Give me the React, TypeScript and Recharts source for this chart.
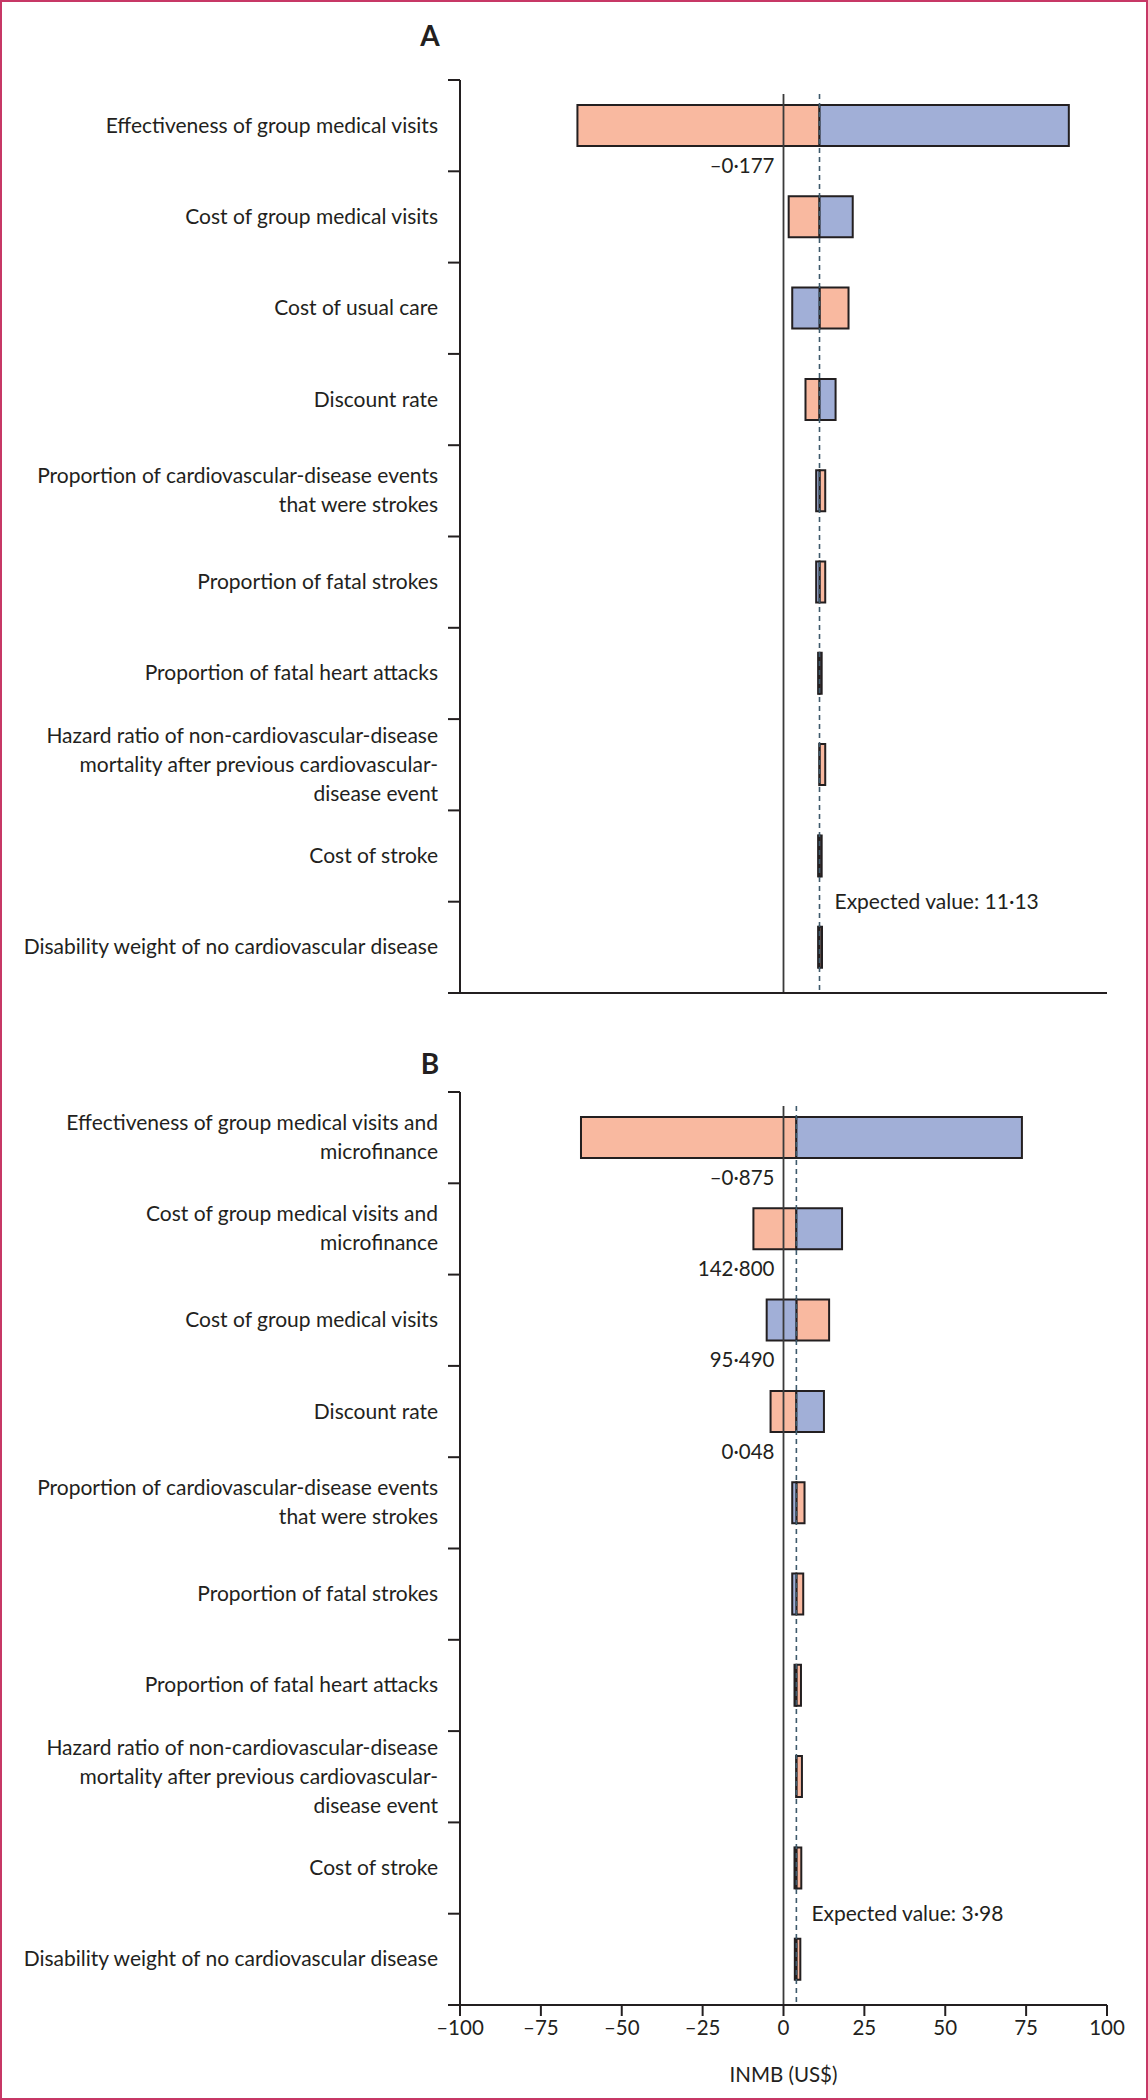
import { BarChart, Bar, XAxis, YAxis, ReferenceLine, ReferenceDot } from "recharts";

const CATEGORIES_A = [
  "Effectiveness of group medical visits",
  "Cost of group medical visits",
  "Cost of usual care",
  "Discount rate",
  "Proportion of cardiovascular-disease events\nthat were strokes",
  "Proportion of fatal strokes",
  "Proportion of fatal heart attacks",
  "Hazard ratio of non-cardiovascular-disease\nmortality after previous cardiovascular-\ndisease event",
  "Cost of stroke",
  "Disability weight of no cardiovascular disease",
];
const LOW_A = [-63.7, 1.6, 2.7, 6.8, 10.1, 10.1, 10.7, 11.1, 10.7, 10.7];
const HIGH_A = [88.2, 21.4, 20.1, 16.1, 12.9, 12.9, 11.8, 12.9, 11.8, 11.9];
const LEFT_SALMON_A = [true, true, false, true, false, false, false, false, false, false];
const EXPECTED_A = 11.13;
const NOTE_ROWS_A = [0];
const NOTE_TEXT_A = ["–0·177"];

const CATEGORIES_B = [
  "Effectiveness of group medical visits and\nmicrofinance",
  "Cost of group medical visits and\nmicrofinance",
  "Cost of group medical visits",
  "Discount rate",
  "Proportion of cardiovascular-disease events\nthat were strokes",
  "Proportion of fatal strokes",
  "Proportion of fatal heart attacks",
  "Hazard ratio of non-cardiovascular-disease\nmortality after previous cardiovascular-\ndisease event",
  "Cost of stroke",
  "Disability weight of no cardiovascular disease",
];
const LOW_B = [-62.6, -9.3, -5.2, -4.0, 2.7, 2.7, 3.4, 3.95, 3.4, 3.5];
const HIGH_B = [73.7, 18.1, 14.1, 12.5, 6.5, 6.1, 5.4, 5.7, 5.5, 5.2];
const LEFT_SALMON_B = [true, true, false, true, false, false, false, false, false, false];
const EXPECTED_B = 3.98;
const NOTE_ROWS_B = [0, 1, 2, 3];
const NOTE_TEXT_B = ["–0·875", "142·800", "95·490", "0·048"];

const X_TICKS = [-100, -75, -50, -25, 0, 25, 50, 75, 100];

const INK = "#231f20";
const SALMON = "#f9b9a0";
const BLUE = "#a1afd7";
const DASH = "#3e5a6c";
const FONT = "Lato, 'Open Sans', sans-serif";

const W = 1148;
const AXIS_X = 460;
const TOP = 80;
const PLOT_H = 913;
const ROWS = 10;
const BAND = PLOT_H / ROWS;
const BAR = 41;

function CategoryTick(props: any) {
  const { y, payload, index, visibleTicksCount } = props;
  const lines = String(payload.value).split("\n");
  const lh = 29;
  const first = y - ((lines.length - 1) * lh) / 2 + 7;
  return (
    <g>
      <line x1={AXIS_X - 12} x2={AXIS_X} y1={y - BAND / 2} y2={y - BAND / 2} stroke={INK} strokeWidth={2} />
      {index === visibleTicksCount - 1 && (
        <line x1={AXIS_X - 12} x2={AXIS_X} y1={y + BAND / 2} y2={y + BAND / 2} stroke={INK} strokeWidth={2} />
      )}
      <text x={AXIS_X - 22} y={first} textAnchor="end" fontSize={21} fill={INK} fontFamily={FONT}>
        {lines.map((l, i) => (
          <tspan key={i} x={AXIS_X - 22} dy={i === 0 ? 0 : lh}>
            {l}
          </tspan>
        ))}
      </text>
    </g>
  );
}

const trimmed = (color: string, width: number, dash?: string) => (p: any) => (
  <line
    x1={p.x1}
    x2={p.x2}
    y1={Math.min(p.y1, p.y2) + 14}
    y2={Math.max(p.y1, p.y2)}
    stroke={color}
    strokeWidth={width}
    strokeDasharray={dash}
  />
);

interface PanelProps {
  categories: string[];
  low: number[];
  high: number[];
  leftSalmon: boolean[];
  expected: number;
  noteRows: number[];
  noteText: string[];
  height: number;
  axisHeight: number;
  showTicks: boolean;
}

function Panel({ categories, low, high, leftSalmon, expected, noteRows, noteText, height, axisHeight, showTicks }: PanelProps) {
  const data = categories.map((name, i) => ({
    name,
    salmon: leftSalmon[i] ? [low[i], expected] : [expected, high[i]],
    blue: leftSalmon[i] ? [expected, high[i]] : [low[i], expected],
  }));
  const evText = `Expected value: ${String(expected).replace(".", "·")}`;

  return (
    <BarChart
      width={W}
      height={height}
      data={data}
      layout="vertical"
      margin={{ top: TOP, right: W - 1107, left: 0, bottom: 0 }}
      barSize={BAR}
      barGap={-BAR}
    >
      <XAxis
        type="number"
        domain={[-100, 100]}
        ticks={X_TICKS}
        height={axisHeight}
        tickSize={11}
        tickMargin={4}
        axisLine={{ stroke: INK, strokeWidth: 2 }}
        tickLine={{ stroke: INK, strokeWidth: 2 }}
        tick={showTicks ? { fill: INK, fontSize: 20.5, fontFamily: FONT } : false}
        tickFormatter={(v: number) => (v < 0 ? `–${-v}` : `${v}`)}
        label={
          showTicks
            ? { value: "INMB (US$)", position: "insideBottom", offset: 18, fill: INK, fontSize: 20.5, fontFamily: FONT }
            : undefined
        }
      />
      <YAxis
        type="category"
        dataKey="name"
        width={AXIS_X}
        interval={0}
        tickLine={false}
        axisLine={{ stroke: INK, strokeWidth: 2 }}
        tick={<CategoryTick />}
      />
      <Bar dataKey="salmon" fill={SALMON} stroke={INK} strokeWidth={2} isAnimationActive={false} />
      <Bar dataKey="blue" fill={BLUE} stroke={INK} strokeWidth={2} isAnimationActive={false} />
      <ReferenceLine x={0} stroke="#3a3a3a" shape={trimmed("#3a3a3a", 1.8)} />
      <ReferenceLine x={expected} stroke={DASH} shape={trimmed(DASH, 1.6, "5 4")} />
      {noteRows.map((r, i) => (
        <ReferenceDot
          key={r}
          x={0}
          y={categories[r]}
          r={0}
          shape={(p: any) => (
            <text x={p.cx - 9} y={p.cy + 47} textAnchor="end" fontSize={20.5} fill={INK} fontFamily={FONT}>
              {noteText[i]}
            </text>
          )}
        />
      ))}
      <ReferenceDot
        x={expected}
        y={categories[categories.length - 1]}
        r={0}
        shape={(p: any) => (
          <text x={p.cx + 15} y={p.cy - BAND / 2 + 7} fontSize={21} fill={INK} fontFamily={FONT}>
            {evText}
          </text>
        )}
      />
    </BarChart>
  );
}

const titleStyle: React.CSSProperties = {
  position: "absolute",
  left: 400,
  width: 60,
  height: 34,
  lineHeight: "34px",
  textAlign: "center",
  fontFamily: FONT,
  fontWeight: 700,
  fontSize: 28,
  color: INK,
};

export default function App() {
  return (
    <div style={{ position: "absolute", left: 0, top: 0, width: W, height: 2100, background: "#fff", fontFamily: FONT }}>
      <div style={{ position: "absolute", left: 0, top: 0 }}>
        <Panel
          categories={CATEGORIES_A}
          low={LOW_A}
          high={HIGH_A}
          leftSalmon={LEFT_SALMON_A}
          expected={EXPECTED_A}
          noteRows={NOTE_ROWS_A}
          noteText={NOTE_TEXT_A}
          height={1012}
          axisHeight={19}
          showTicks={false}
        />
      </div>
      <div style={{ position: "absolute", left: 0, top: 1012 }}>
        <Panel
          categories={CATEGORIES_B}
          low={LOW_B}
          high={HIGH_B}
          leftSalmon={LEFT_SALMON_B}
          expected={EXPECTED_B}
          noteRows={NOTE_ROWS_B}
          noteText={NOTE_TEXT_B}
          height={1088}
          axisHeight={95}
          showTicks={true}
        />
      </div>
      <div style={{ ...titleStyle, top: 18 }}>A</div>
      <div style={{ ...titleStyle, top: 1046 }}>B</div>
      <div
        style={{
          position: "absolute",
          left: 0,
          top: 0,
          width: W,
          height: 2100,
          boxSizing: "border-box",
          border: "2px solid #c73866",
          pointerEvents: "none",
        }}
      />
    </div>
  );
}
